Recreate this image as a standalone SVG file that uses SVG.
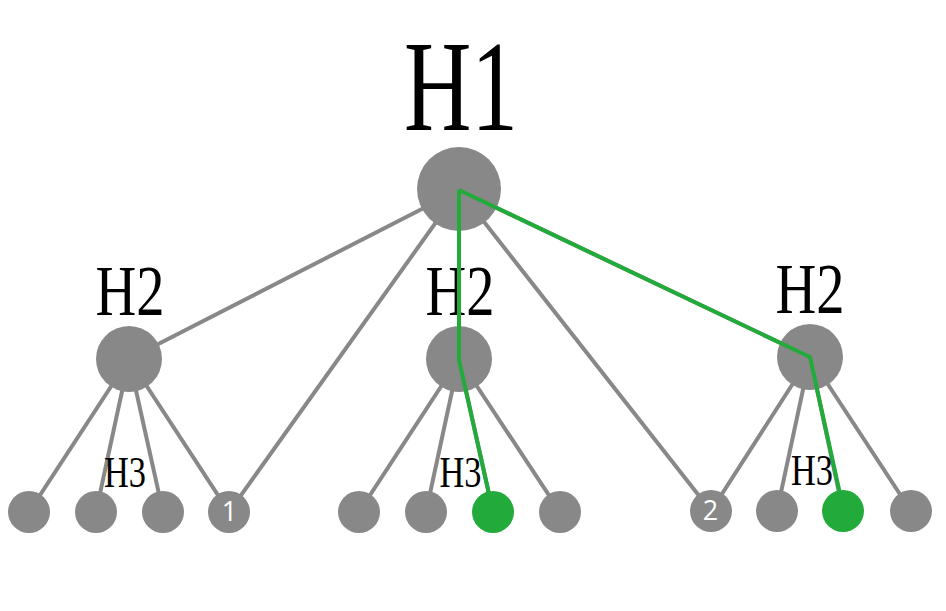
<svg xmlns="http://www.w3.org/2000/svg" width="946" height="611" viewBox="0 0 946 611">
<style>
.edge{stroke:#888888;stroke-width:4;fill:none}
.hl{stroke:#22aa3a;stroke-width:4;fill:none;stroke-linejoin:round}
.n{fill:#888888}
.g{fill:#22ab3b}
.t{font-family:"Liberation Serif",serif;fill:#000;text-anchor:middle}
.num{font-family:"Open Sans","Liberation Sans",sans-serif;font-size:27px;fill:#fff;text-anchor:middle}
</style>
<rect width="946" height="611" fill="#fff"/>
<g id="connectors">
<line class="edge" x1="459" y1="190" x2="129" y2="359"/>
<line class="edge" x1="459" y1="190" x2="229" y2="512"/>
<line class="edge" x1="459" y1="190" x2="459" y2="359"/>
<line class="edge" x1="459" y1="190" x2="711" y2="511"/>
<line class="edge" x1="459" y1="190" x2="810" y2="357"/>
<line class="edge" x1="129" y1="359" x2="29" y2="512"/>
<line class="edge" x1="129" y1="359" x2="96" y2="512"/>
<line class="edge" x1="129" y1="359" x2="163" y2="512"/>
<line class="edge" x1="129" y1="359" x2="229" y2="512"/>
<line class="edge" x1="459" y1="359" x2="359" y2="512"/>
<line class="edge" x1="459" y1="359" x2="426" y2="512"/>
<line class="edge" x1="459" y1="359" x2="493" y2="512"/>
<line class="edge" x1="459" y1="359" x2="560" y2="512"/>
<line class="edge" x1="810" y1="357" x2="711" y2="511"/>
<line class="edge" x1="810" y1="357" x2="777" y2="511"/>
<line class="edge" x1="810" y1="357" x2="843" y2="511"/>
<line class="edge" x1="810" y1="357" x2="911" y2="511"/>
</g>
<g id="root"><circle class="n" cx="459" cy="189" r="42"/><text class="t" x="461" y="130" font-size="130" textLength="114" lengthAdjust="spacingAndGlyphs">H1</text></g>
<g id="h2-left"><circle class="n" cx="129" cy="359" r="33"/><text class="t" x="130" y="315" font-size="72" textLength="69" lengthAdjust="spacingAndGlyphs">H2</text></g>
<g id="h2-mid"><circle class="n" cx="459" cy="359" r="33"/><text class="t" x="460" y="315" font-size="72" textLength="69" lengthAdjust="spacingAndGlyphs">H2</text></g>
<g id="h2-right"><circle class="n" cx="810" cy="357" r="33"/><text class="t" x="810" y="313" font-size="72" textLength="69" lengthAdjust="spacingAndGlyphs">H2</text></g>
<g id="leaf-l1"><circle class="n" cx="29" cy="512" r="21"/></g>
<g id="leaf-l2"><circle class="n" cx="96" cy="512" r="21"/><text class="t" x="125" y="487" font-size="44" textLength="42" lengthAdjust="spacingAndGlyphs">H3</text></g>
<g id="leaf-l3"><circle class="n" cx="163" cy="512" r="21"/></g>
<g id="leaf-1"><circle class="n" cx="229" cy="512" r="21"/><text class="num" x="229.5" y="520.5">1</text></g>
<g id="leaf-m1"><circle class="n" cx="359" cy="512" r="21"/></g>
<g id="leaf-m2"><circle class="n" cx="426" cy="512" r="21"/><text class="t" x="460.5" y="487" font-size="44" textLength="42" lengthAdjust="spacingAndGlyphs">H3</text></g>
<g id="leaf-m3"><circle class="g" cx="493" cy="512" r="21"/></g>
<g id="leaf-m4"><circle class="n" cx="560" cy="512" r="21"/></g>
<g id="leaf-2"><circle class="n" cx="711" cy="511" r="21"/><text class="num" x="710.5" y="520">2</text></g>
<g id="leaf-r2"><circle class="n" cx="777" cy="511" r="21"/><text class="t" x="812" y="485" font-size="44" textLength="42" lengthAdjust="spacingAndGlyphs">H3</text></g>
<g id="leaf-r3"><circle class="g" cx="843" cy="511" r="21"/></g>
<g id="leaf-r4"><circle class="n" cx="911" cy="511" r="21"/></g>
<g id="highlight-path">
<polyline class="hl" points="459,190 459,360 489,494"/>
<polyline class="hl" points="459,190 810,357 840,494"/>
</g>
</svg>
